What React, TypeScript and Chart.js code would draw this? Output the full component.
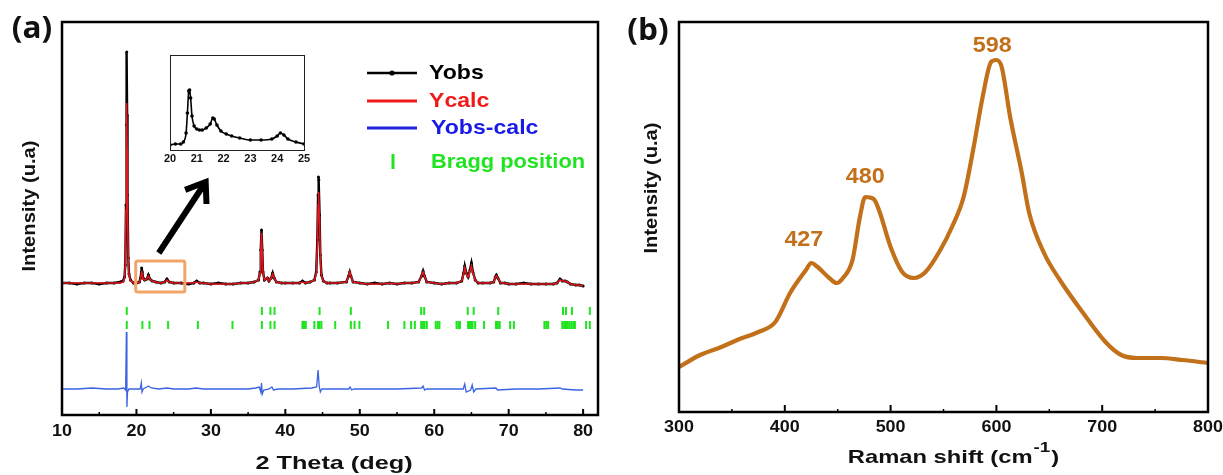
import React, { useEffect, useRef } from 'react';
import { Chart, registerables } from 'chart.js';
Chart.register(...registerables);

// ---------------- Panel (a): XRD Rietveld refinement ----------------
const XRD_X = [
  10, 11, 12, 13, 14, 15, 16, 17, 17.8, 18.2,
  18.4, 18.5, 18.6, 18.65, 18.7, 18.75, 18.8, 18.9, 19.0, 19.2,
  19.6, 20.0, 20.4, 20.55, 20.65, 20.7, 20.78, 20.9, 21.1, 21.4,
  21.6, 21.8, 22.1, 22.6, 23.3, 23.8, 24.1, 24.4, 25, 26,
  27, 27.7, 28.1, 28.5, 29, 30, 31, 32, 33, 34,
  35, 35.8, 36.4, 36.6, 36.7, 36.8, 36.9, 37.0, 37.2, 37.6,
  37.8, 38.1, 38.3, 38.5, 38.8, 39.5, 40, 41, 41.9, 42.3,
  42.7, 43.3, 43.9, 44.15, 44.3, 44.4, 44.45, 44.5, 44.6, 44.7,
  44.85, 45.1, 45.6, 46, 47, 48.2, 48.5, 48.65, 48.8, 49.1,
  50, 51, 52, 53, 54, 55, 56, 57, 57.9, 58.3,
  58.5, 58.7, 59.0, 60, 61, 62, 63, 63.7, 63.95, 64.1,
  64.3, 64.55, 64.8, 65.0, 65.2, 65.5, 65.9, 66.5, 67.5, 68.0,
  68.2, 68.35, 68.55, 68.9, 69.5, 70, 71, 72, 73, 74,
  75, 76, 76.5, 76.9, 77.2, 77.6, 77.9, 78.3, 79, 79.5,
  80,
];
const Y_OBS = [
  5280, 5280, 5240, 5280, 5280, 5240, 5280, 5280, 5320, 5360,
  5520, 6000, 8400, 11600, 14520, 12000, 8800, 6280, 5640, 5400,
  5280, 5280, 5320, 5480, 5720, 5880, 5720, 5480, 5400, 5440,
  5600, 5440, 5360, 5320, 5280, 5320, 5440, 5320, 5280, 5280,
  5240, 5280, 5360, 5280, 5280, 5240, 5280, 5240, 5240, 5280,
  5280, 5320, 5400, 5720, 6600, 7400, 6600, 5720, 5400, 5480,
  5360, 5480, 5680, 5480, 5320, 5280, 5280, 5280, 5280, 5360,
  5280, 5320, 5400, 5720, 7000, 8800, 9520, 9400, 8000, 6400,
  5600, 5360, 5280, 5280, 5280, 5320, 5560, 5720, 5560, 5320,
  5280, 5240, 5280, 5240, 5280, 5240, 5280, 5280, 5320, 5560,
  5760, 5560, 5320, 5280, 5240, 5280, 5280, 5360, 5680, 5960,
  5680, 5520, 5800, 6080, 5720, 5400, 5280, 5280, 5280, 5320,
  5520, 5600, 5480, 5280, 5280, 5240, 5240, 5280, 5240, 5240,
  5240, 5240, 5280, 5440, 5360, 5360, 5320, 5240, 5200, 5200,
  5160,
];
const Y_CALC = [
  5280, 5280, 5280, 5280, 5280, 5280, 5280, 5280, 5280, 5320,
  5480, 5960, 8200, 10400, 12480, 10600, 8400, 6120, 5600, 5360,
  5280, 5280, 5320, 5440, 5640, 5760, 5640, 5440, 5400, 5440,
  5560, 5440, 5360, 5320, 5280, 5320, 5400, 5320, 5280, 5280,
  5280, 5280, 5320, 5280, 5280, 5240, 5240, 5240, 5240, 5280,
  5280, 5320, 5400, 5680, 6520, 7280, 6480, 5680, 5400, 5480,
  5360, 5480, 5640, 5480, 5320, 5280, 5280, 5280, 5280, 5320,
  5280, 5320, 5400, 5640, 6760, 8400, 8920, 8800, 7720, 6280,
  5560, 5360, 5280, 5280, 5280, 5320, 5560, 5720, 5560, 5320,
  5280, 5240, 5240, 5240, 5280, 5240, 5280, 5280, 5320, 5560,
  5720, 5560, 5320, 5280, 5240, 5280, 5280, 5360, 5640, 5880,
  5640, 5520, 5760, 5960, 5680, 5400, 5280, 5280, 5280, 5320,
  5520, 5560, 5480, 5280, 5280, 5240, 5240, 5240, 5240, 5240,
  5240, 5240, 5280, 5400, 5360, 5360, 5320, 5240, 5200, 5200,
  5160,
];
const DIFF_X = [
  10, 12, 14, 16, 17.5, 18.3, 18.55, 18.65, 18.72, 18.8,
  19.0, 20.0, 20.5, 20.65, 20.75, 20.9, 21.4, 21.6, 22.0, 23,
  24.1, 25, 27, 28, 29, 31, 33, 35, 36.0, 36.5,
  36.7, 36.8, 36.9, 37.1, 37.8, 38.2, 38.4, 39, 41, 43.5,
  44.2, 44.4, 44.55, 44.7, 44.9, 46, 48.5, 48.7, 48.9, 49.2,
  52, 55, 58.3, 58.5, 58.7, 59, 62, 63.9, 64.1, 64.3,
  64.9, 65.1, 65.3, 65.6, 68.3, 68.5, 71, 74, 76.9, 77.2,
  79, 80,
];
const DIFF_Y = [
  1040, 1040, 1080, 1040, 1040, 1080, 1000, 3320, 320, 920,
  1040, 1040, 1040, 1280, 920, 1040, 1120, 1160, 1080, 1040,
  1080, 1040, 1040, 1080, 1040, 1040, 1040, 1040, 1080, 1120,
  920, 1280, 840, 1000, 1040, 1120, 1000, 1040, 1040, 1080,
  1120, 1800, 1160, 920, 1040, 1040, 1040, 1120, 1000, 1040,
  1040, 1040, 1080, 1160, 1000, 1040, 1040, 1040, 1240, 920,
  1000, 1200, 920, 1040, 1080, 1000, 1040, 1040, 1080, 1040,
  1000, 1000,
];
const BRAGG_ROW1 = [18.7, 36.85, 38.0, 38.55, 44.6, 48.8, 58.25, 58.65, 64.5, 65.3, 68.6, 77.3, 77.7, 78.5, 80.9];
const BRAGG_ROW2 = [
  18.7, 20.8, 21.75, 24.25, 28.25, 32.9, 36.85, 38.0, 38.55, 42.3, 42.5, 42.75,
  43.9, 44.4, 44.6, 44.85, 46.7, 48.8, 49.3, 49.95, 53.8, 56.0, 56.9, 57.4,
  58.25, 58.5, 58.7, 59.0, 60.2, 60.45, 60.7, 63.0, 63.25, 63.45, 64.55, 64.75,
  64.95, 65.15, 65.5, 66.7, 68.3, 68.55, 68.8, 70.2, 70.7, 74.8, 75.05, 75.3,
  77.2, 77.45, 77.7, 77.95, 78.2, 78.45, 78.7, 78.9, 80.4, 80.9,
];
const BRAGG_ROW1_LEVEL = 4160;
const BRAGG_ROW2_LEVEL = 3600;
const XRD_TICKS = [10, 20, 30, 40, 50, 60, 70, 80];
const XRD_MINOR_TICKS = [15, 25, 35, 45, 55, 65, 75];
const LEGEND_LABELS = ['Yobs', 'Ycalc', 'Yobs-calc', 'Bragg position'];

// inset (20-25 deg)
const INSET_X = [
  20.0, 20.2, 20.4, 20.5, 20.6, 20.65, 20.7, 20.73, 20.77, 20.82,
  20.9, 21.0, 21.1, 21.2, 21.35, 21.5, 21.6, 21.65, 21.75, 21.9,
  22.1, 22.3, 22.6, 23.0, 23.4, 23.8, 24.0, 24.12, 24.25, 24.4,
  24.7, 25.0,
];
const INSET_Y = [
  500, 510, 510, 530, 620, 820, 1040, 1050, 970, 790,
  690, 660, 650, 650, 670, 710, 770, 760, 700, 640,
  610, 590, 570, 550, 550, 560, 590, 620, 600, 560,
  530, 510,
];
const INSET_TICKS = [20, 21, 22, 23, 24, 25];

// ---------------- Panel (b): Raman ----------------
const RAMAN_X = [
  300, 320, 340, 355, 375, 391, 405, 420, 425, 431,
  442, 449, 455, 464, 471, 476, 484, 489, 500, 511,
  522, 533, 547, 558, 569, 578, 587, 595, 600, 605,
  613, 624, 631, 645, 660, 682, 704, 718, 733, 755,
  776, 800,
];
const RAMAN_Y = [
  450, 570, 650, 720, 800, 900, 1190, 1420, 1490, 1450,
  1340, 1290, 1340, 1520, 1950, 2150, 2130, 2020, 1650, 1400,
  1340, 1400, 1620, 1850, 2150, 2620, 3150, 3500, 3520, 3450,
  2950, 2390, 1990, 1590, 1320, 990, 690, 570, 540, 540,
  520, 490,
];
const RAMAN_TICKS = [300, 400, 500, 600, 700, 800];
const RAMAN_MINOR_TICKS = [350, 450, 550, 650, 750];
const RAMAN_PEAK_TEXT = ['427', '480', '598'];
const RAMAN_PEAK_LABEL_X = [418, 476, 596];
const RAMAN_PEAK_LABEL_Y = [1720, 2350, 3660];

const FONT = "'Liberation Sans', Arial, Helvetica, sans-serif";
const RAMAN_COLOR = '#c2701a';
const GREEN = '#1fe41f';

function drawText(ctx: any, s: string, x: number, y: number, size: number, color: string, opts: any = {}) {
  const { align = 'center', stretch = 1.1, rot = 0, baseline = 'middle', family = FONT, weight = 'bold' } = opts;
  ctx.save();
  ctx.translate(x, y);
  if (rot) ctx.rotate(rot);
  ctx.scale(stretch, 1);
  ctx.font = `${weight} ${size}px ${family}`;
  ctx.fillStyle = color;
  ctx.textAlign = align;
  ctx.textBaseline = baseline;
  ctx.fillText(s, 0, 0);
  ctx.restore();
}

function seg(ctx: any, x0: number, y0: number, x1: number, y1: number) {
  ctx.beginPath();
  ctx.moveTo(x0, y0);
  ctx.lineTo(x1, y1);
  ctx.stroke();
}

function drawFrameTicks(chart: any, majors: number[], minors: number[], frameW: number, majLen: number, minLen: number, labelDy: number, labelSize: number) {
  const { ctx, chartArea: a, scales } = chart;
  const xs = scales.x;
  ctx.save();
  ctx.strokeStyle = '#000';
  ctx.lineWidth = 2;
  for (const v of majors) {
    const px = xs.getPixelForValue(v);
    seg(ctx, px, a.bottom, px, a.bottom - majLen);
  }
  ctx.lineWidth = 1.5;
  for (const v of minors) {
    const px = xs.getPixelForValue(v);
    seg(ctx, px, a.bottom, px, a.bottom - minLen);
  }
  ctx.lineWidth = frameW;
  ctx.strokeRect(a.left, a.top, a.right - a.left, a.bottom - a.top);
  ctx.restore();
  for (const v of majors) {
    drawText(ctx, String(v), xs.getPixelForValue(v), a.bottom + labelDy, labelSize, '#111', { stretch: 1.12 });
  }
}

const panelAPlugin = {
  id: 'panelA',
  afterDraw(chart: any) {
    const { ctx, chartArea: a, scales } = chart;
    const xs = scales.x, ys = scales.y;
    // zoom box
    ctx.save();
    ctx.strokeStyle = '#f2a568';
    ctx.lineWidth = 3;
    const bx0 = xs.getPixelForValue(19.9), bx1 = xs.getPixelForValue(26.5);
    const by0 = ys.getPixelForValue(6160), by1 = ys.getPixelForValue(4920);
    ctx.beginPath();
    ctx.roundRect(bx0, by0, bx1 - bx0, by1 - by0, 2);
    ctx.stroke();
    // arrow
    const tx = xs.getPixelForValue(23.0), ty = ys.getPixelForValue(6480);
    const hx = xs.getPixelForValue(29.3), hy = ys.getPixelForValue(9320);
    const ang = Math.atan2(hy - ty, hx - tx);
    ctx.strokeStyle = '#000';
    ctx.lineWidth = 6;
    ctx.lineJoin = 'miter';
    seg(ctx, tx, ty, hx - Math.cos(ang) * 3, hy - Math.sin(ang) * 3);
    const L = 22;
    ctx.beginPath();
    ctx.moveTo(hx - L * Math.cos(ang - 0.62), hy - L * Math.sin(ang - 0.62));
    ctx.lineTo(hx, hy);
    ctx.lineTo(hx - L * Math.cos(ang + 0.62), hy - L * Math.sin(ang + 0.62));
    ctx.stroke();
    ctx.restore();

    drawFrameTicks(chart, XRD_TICKS, XRD_MINOR_TICKS, 2.5, 6, 3, 17, 16);

    // legend
    ctx.save();
    ctx.lineWidth = 2.5;
    ctx.strokeStyle = '#000';
    seg(ctx, 367, 73, 417, 73);
    ctx.fillStyle = '#000';
    ctx.beginPath(); ctx.arc(392, 73, 2.6, 0, Math.PI * 2); ctx.fill();
    ctx.lineWidth = 3;
    ctx.strokeStyle = '#ee1c1c';
    seg(ctx, 367, 101, 417, 101);
    ctx.strokeStyle = '#2323e0';
    seg(ctx, 367, 128, 417, 128);
    ctx.strokeStyle = GREEN;
    seg(ctx, 393, 154, 393, 169);
    ctx.restore();
    drawText(ctx, LEGEND_LABELS[0], 429, 73, 21, '#000', { align: 'left', stretch: 1.1 });
    drawText(ctx, LEGEND_LABELS[1], 429, 101, 21, '#f01a1a', { align: 'left', stretch: 1.1 });
    drawText(ctx, LEGEND_LABELS[2], 431, 128, 21, '#1a1ae6', { align: 'left', stretch: 1.1 });
    drawText(ctx, LEGEND_LABELS[3], 431, 162, 21, GREEN, { align: 'left', stretch: 1.04 });

    // titles
    drawText(ctx, '2 Theta (deg)', (a.left + a.right) / 2 + 4, 464, 19, '#111', { stretch: 1.33 });
    drawText(ctx, 'Intensity (u.a)', 30, 206, 18, '#111', { rot: -Math.PI / 2, stretch: 1.12 });
    drawText(ctx, '(a)', 32, 29, 30, '#111', { family: "'Open Sans', sans-serif", stretch: 1.05 });
  },
};

const insetPlugin = {
  id: 'inset',
  afterDraw(chart: any) {
    const { ctx, chartArea: a, scales } = chart;
    ctx.save();
    ctx.strokeStyle = '#222';
    ctx.lineWidth = 1;
    ctx.strokeRect(a.left + 0.5, a.top + 0.5, a.right - a.left, a.bottom - a.top);
    ctx.restore();
    for (const v of INSET_TICKS) {
      drawText(ctx, String(v), scales.x.getPixelForValue(v), a.bottom + 9, 10, '#111', { stretch: 1.1 });
    }
  },
};

const panelBPlugin = {
  id: 'panelB',
  afterDraw(chart: any) {
    const { ctx, chartArea: a, scales } = chart;
    const xs = scales.x, ys = scales.y;
    drawFrameTicks(chart, RAMAN_TICKS, RAMAN_MINOR_TICKS, 2.5, 7, 3, 16, 16);
    RAMAN_PEAK_TEXT.forEach((t, i) => {
      drawText(ctx, t, xs.getPixelForValue(RAMAN_PEAK_LABEL_X[i]), ys.getPixelForValue(RAMAN_PEAK_LABEL_Y[i]), 22, RAMAN_COLOR, { stretch: 1.06 });
    });
    // x title with superscript
    const st = 1.25;
    ctx.save();
    ctx.font = `bold 19px ${FONT}`;
    const w1 = ctx.measureText('Raman shift (cm').width * st;
    const w3 = ctx.measureText(')').width * st;
    ctx.font = `bold 15px ${FONT}`;
    const w2 = ctx.measureText('-1').width * st;
    ctx.restore();
    const total = w1 + w2 + w3 + 2;
    const x0 = (a.left + a.right) / 2 + 10 - total / 2;
    drawText(ctx, 'Raman shift (cm', x0, 458, 19, '#111', { align: 'left', stretch: st });
    drawText(ctx, '-1', x0 + w1 + 1, 448, 15, '#111', { align: 'left', stretch: st });
    drawText(ctx, ')', x0 + w1 + w2 + 2, 458, 19, '#111', { align: 'left', stretch: st });
    drawText(ctx, 'Intensity (u.a)', 40, 188, 18, '#111', { rot: -Math.PI / 2, stretch: 1.12 });
    drawText(ctx, '(b)', 36, 31, 30, '#111', { family: "'Open Sans', sans-serif", stretch: 1.05 });
  },
};

const baseOptions = (padding: any, xr: number[], yr: number[]) => ({
  animation: false as const,
  responsive: false,
  maintainAspectRatio: false,
  events: [],
  layout: { padding },
  plugins: { legend: { display: false }, tooltip: { enabled: false }, title: { display: false } },
  scales: {
    x: { type: 'linear' as const, min: xr[0], max: xr[1], display: false },
    y: { type: 'linear' as const, min: yr[0], max: yr[1], display: false },
  },
});

export default function App() {
  const aRef = useRef<HTMLCanvasElement>(null);
  const insetRef = useRef<HTMLCanvasElement>(null);
  const bRef = useRef<HTMLCanvasElement>(null);

  useEffect(() => {
    const chartA = new Chart(aRef.current as HTMLCanvasElement, {
      type: 'scatter',
      data: {
        datasets: [
          {
            label: 'Yobs',
            data: XRD_X.map((x, i) => ({ x, y: Y_OBS[i] })),
            showLine: true,
            borderColor: '#000',
            backgroundColor: '#000',
            borderWidth: 2.4,
            pointRadius: 1.5,
            pointBorderWidth: 0,
            order: 3,
          },
          {
            label: 'Ycalc',
            data: XRD_X.map((x, i) => ({ x, y: Y_CALC[i] })),
            showLine: true,
            borderColor: '#e3161e',
            borderWidth: 1.6,
            pointRadius: 0,
            order: 2,
          },
          {
            label: 'Yobs-calc',
            data: DIFF_X.map((x, i) => ({ x, y: DIFF_Y[i] })),
            showLine: true,
            borderColor: '#3a64e2',
            borderWidth: 1.3,
            pointRadius: 0,
            order: 1,
          },
          {
            label: 'Bragg position',
            data: BRAGG_ROW1.map((x) => ({ x, y: BRAGG_ROW1_LEVEL })),
            showLine: false,
            pointStyle: 'line',
            rotation: 90,
            pointRadius: 4,
            borderColor: GREEN,
            backgroundColor: GREEN,
            borderWidth: 2,
            order: 4,
          },
          {
            label: 'Bragg position 2',
            data: BRAGG_ROW2.map((x) => ({ x, y: BRAGG_ROW2_LEVEL })),
            showLine: false,
            pointStyle: 'line',
            rotation: 90,
            pointRadius: 4,
            borderColor: GREEN,
            backgroundColor: GREEN,
            borderWidth: 2,
            order: 4,
          },
        ] as any,
      },
      options: baseOptions({ left: 62, right: 14, top: 22, bottom: 60 }, [10, 82], [0, 15720]) as any,
      plugins: [panelAPlugin],
    });

    const chartInset = new Chart(insetRef.current as HTMLCanvasElement, {
      type: 'scatter',
      data: {
        datasets: [
          {
            label: 'inset',
            data: INSET_X.map((x, i) => ({ x, y: INSET_Y[i] })),
            showLine: true,
            borderColor: '#000',
            backgroundColor: '#000',
            borderWidth: 1.6,
            pointRadius: 1.8,
            pointBorderWidth: 0,
            cubicInterpolationMode: 'monotone',
          },
        ] as any,
      },
      options: baseOptions({ left: 20, right: 21, top: 15, bottom: 25 }, [20, 25], [450, 1400]) as any,
      plugins: [insetPlugin],
    });

    const chartB = new Chart(bRef.current as HTMLCanvasElement, {
      type: 'scatter',
      data: {
        datasets: [
          {
            label: 'Raman',
            data: RAMAN_X.map((x, i) => ({ x, y: RAMAN_Y[i] })),
            showLine: true,
            borderColor: RAMAN_COLOR,
            borderWidth: 4.2,
            pointRadius: 0,
            cubicInterpolationMode: 'monotone',
            borderCapStyle: 'round',
            borderJoinStyle: 'round',
          },
        ] as any,
      },
      options: baseOptions({ left: 67, right: 15, top: 22, bottom: 63 }, [300, 800], [0, 3900]) as any,
      plugins: [panelBPlugin],
    });

    return () => {
      chartA.destroy();
      chartInset.destroy();
      chartB.destroy();
    };
  }, []);

  return (
    <div style={{ position: 'absolute', left: 0, top: 0, width: 1223, height: 475, background: '#fff', overflow: 'hidden' }}>
      <canvas ref={aRef} width={612} height={475} style={{ position: 'absolute', left: 0, top: 0, width: 612, height: 475 }} />
      <canvas ref={insetRef} width={175} height={135} style={{ position: 'absolute', left: 150, top: 40, width: 175, height: 135 }} />
      <canvas ref={bRef} width={611} height={475} style={{ position: 'absolute', left: 612, top: 0, width: 611, height: 475 }} />
    </div>
  );
}
